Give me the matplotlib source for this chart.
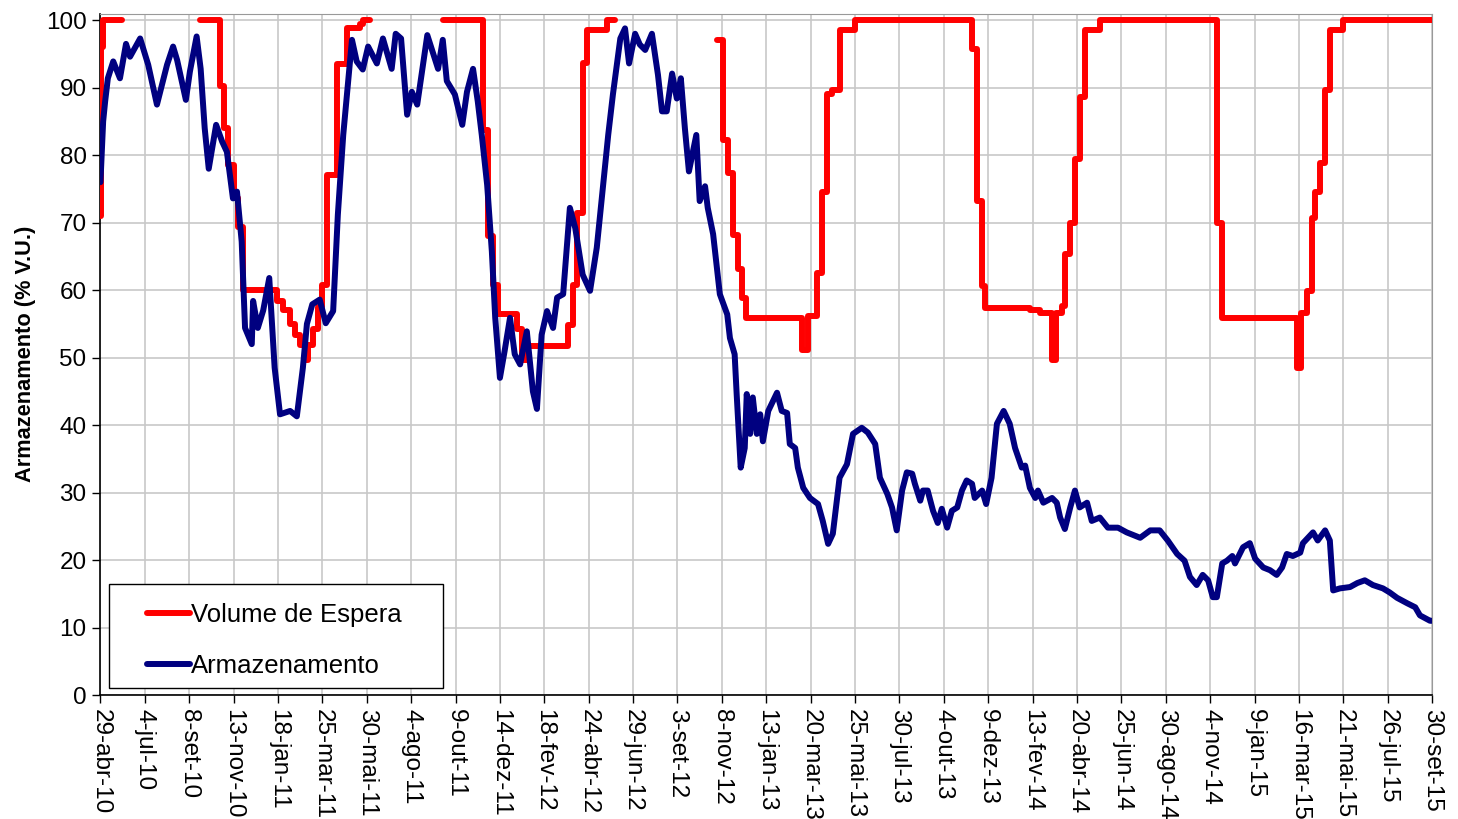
import numpy as np
import pandas as pd
import matplotlib
matplotlib.use('Agg')
import matplotlib.pyplot as plt
from matplotlib.patches import Rectangle

################################################################### data

START = pd.Timestamp('2010-04-29')
MESES = ['jan', 'fev', 'mar', 'abr', 'mai', 'jun', 'jul', 'ago', 'set', 'out', 'nov', 'dez']

# armazenamento, dias contados a partir de 29-abr-10
arm_dias = [0, 4, 7, 11, 19, 29, 38, 44, 59, 71, 84, 99, 108, 114, 127, 133, 143, 149, 155, 161,
            172, 181, 188, 197, 203, 210, 215, 225, 227, 234, 242, 251, 259, 267, 282, 292, 301, 307,
            315, 326, 335, 346, 353, 361, 374, 381, 390, 398, 411, 420, 433, 439, 447, 456, 463, 471,
            486, 494, 502, 509, 515, 527, 538, 545, 554, 561, 567, 575, 582, 587, 594, 601, 609, 616,
            624, 634, 643, 649, 656, 664, 673, 679, 688, 698, 706, 717, 728, 738, 747, 755, 762, 773,
            780, 786, 795, 802, 810, 820, 829, 835, 842, 850, 857, 863, 869, 875, 886, 891, 899, 903,
            911, 921, 932, 936, 943, 946, 952, 958, 961, 966, 970, 976, 981, 985, 993, 1006, 1013,
            1021, 1025, 1033, 1037, 1045, 1055, 1067, 1074, 1082, 1089, 1099, 1110, 1119, 1132, 1141,
            1152, 1159, 1170, 1177, 1184, 1192, 1199, 1207, 1211, 1219, 1223, 1230, 1238, 1245, 1251,
            1259, 1266, 1274, 1281, 1288, 1296, 1300, 1311, 1317, 1325, 1333, 1343, 1352, 1360, 1370,
            1375, 1382, 1390, 1394, 1402, 1415, 1422, 1427, 1434, 1442, 1449, 1456, 1467, 1474, 1486,
            1498, 1513, 1526, 1546, 1561, 1575, 1587, 1601, 1612, 1620, 1630, 1639, 1647, 1654, 1660,
            1668, 1675, 1683, 1687, 1699, 1709, 1717, 1729, 1739, 1749, 1757, 1764, 1773, 1784, 1788,
            1803, 1810, 1821, 1828, 1833, 1843, 1858, 1869, 1880, 1892, 1907, 1917, 1928, 1943, 1955,
            1962, 1977, 1980]
arm_valores = [76, 85, 88, 91.4, 93.9, 91.4, 96.5, 94.6, 97.3, 93.4, 87.5, 93.4, 96.1, 94.1, 88.2, 92.4,
               97.6, 92.8, 84, 78, 84.5, 82, 80.5, 73.6, 74.6, 67.2, 54.4, 52, 58.4, 54.4, 57, 61.8,
               48.5, 41.6, 42.1, 41.3, 48.5, 55, 57.9, 58.6, 55.1, 56.9, 71.2, 83, 97.1, 93.9, 92.7,
               96.1, 93.6, 97.3, 92.8, 98, 97.3, 86, 89.4, 87.5, 97.8, 95.3, 92.8, 97.1, 91, 89, 84.5,
               89.4, 92.8, 88, 83, 75.6, 65.7, 55.9, 47, 51, 55.9, 50.5, 49, 53.9, 45, 42.4, 53.4,
               56.9, 54.4, 58.9, 59.4, 72.2, 69.2, 62.3, 59.9, 66.3, 75.2, 83, 89, 97.3, 98.8, 93.6,
               98, 96.4, 95.6, 98, 91.9, 86.5, 86.5, 92.1, 88.4, 91.4, 84, 77.6, 83, 73.2, 75.4, 72.2,
               68.3, 59.4, 56.4, 52.9, 50.5, 44.6, 33.7, 36.6, 44.6, 38.7, 44.1, 38.7, 41.6, 37.6,
               42.1, 44.8, 42.1, 41.8, 37.2, 36.6, 33.7, 30.7, 29.2, 28.3, 25.8, 22.4, 23.9, 32.2,
               34.2, 38.7, 39.6, 38.9, 37.2, 32.2, 29.8, 27.8, 24.4, 30.3, 33, 32.8, 31.3, 28.8, 30.3,
               30.3, 27.3, 25.5, 27.6, 24.8, 27.3, 27.8, 30.3, 31.8, 31.3, 29.2, 30.3, 28.3, 32.2,
               40.2, 42.1, 40.2, 36.6, 33.7, 34, 30.7, 29.2, 30.3, 28.5, 29.2, 28.5, 26.3, 24.6, 27.8,
               30.3, 27.8, 28.5, 25.8, 26.3, 24.8, 24.8, 24.1, 23.3, 24.4, 24.4, 22.9, 20.9, 19.9,
               17.5, 16.3, 17.8, 17, 14.5, 14.5, 19.5, 19.9, 20.6, 19.5, 21.9, 22.5, 20.2, 18.9, 18.5,
               17.8, 18.9, 20.9, 20.6, 21.1, 22.5, 24.1, 22.9, 24.4, 22.9, 15.5, 15.8, 16, 16.6, 17,
               16.3, 15.8, 15.2, 14.4, 13.6, 13, 11.8, 11, 11]

# volume de espera (degraus), None = sem dado
ve_dias = [0, 1, 4, 32,
           148, 178, 183, 190, 199, 205, 212, 262, 271, 282, 289, 297, 304, 309, 316, 323, 329, 337,
           352, 366, 386, 390, 401,
           509, 569, 576, 583, 591, 619, 627, 635, 695, 703, 709, 717, 723, 753, 765,
           917, 926, 933, 940, 948, 954, 960, 1043, 1052, 1066, 1073, 1080, 1088, 1100, 1122, 1296,
           1303, 1311, 1315, 1382, 1397, 1415, 1421, 1430, 1434, 1442, 1449, 1456, 1464, 1486, 1660,
           1668, 1779, 1785, 1794, 1802, 1806, 1813, 1821, 1828, 1848, 1980]
ve_valores = [71, 96, 100, None,
              100, 90.2, 84, 78.6, 73.6, 69.4, 60, 58.4, 57, 55, 53.4, 51.9, 49.7, 51.9, 54.2, 57.5,
              60.8, 77, 93.5, 98.8, 99.5, 100, None,
              100, 83.8, 68, 60.8, 56.4, 54.2, 49.7, 51.7, 54.9, 60.8, 71.4, 93.6, 98.6, 100, None,
              97.1, 82.3, 77.3, 68.2, 63.2, 58.8, 55.9, 51.2, 56.1, 62.5, 74.6, 89, 89.7, 98.6, 100,
              95.8, 73.2, 60.6, 57.3, 57.1, 56.6, 49.6, 56.6, 57.6, 65.3, 69.9, 79.5, 88.7, 98.6, 100,
              69.9, 55.9, 48.5, 56.6, 59.9, 70.7, 74.6, 78.8, 89.7, 98.6, 100, 100]

TICK_STEP = 66
N_TICKS = 31

################################################################### plot

plt.rcParams['font.family'] = ['Liberation Sans', 'DejaVu Sans']

fig = plt.figure(figsize=(14.58, 8.19), dpi=100)
ax = fig.add_axes([0.0689, 0.1514, 0.9133, 0.8321])

LW = 4.3
ve = np.array([np.nan if v is None else v for v in ve_valores], dtype=float)
ax.plot(ve_dias, ve, drawstyle='steps-post', color='#FF0000', lw=LW,
        solid_capstyle='round', solid_joinstyle='round', label='Volume de Espera', zorder=3)
ax.plot(arm_dias, arm_valores, color='#000080', lw=LW,
        solid_capstyle='round', solid_joinstyle='round', label='Armazenamento', zorder=4)

ticks = np.arange(N_TICKS) * TICK_STEP
labels = []
for d in ticks:
    t = START + pd.Timedelta(days=int(d))
    labels.append('%d-%s-%02d' % (t.day, MESES[t.month - 1], t.year % 100))
ax.set_xticks(ticks)
ax.set_xticklabels(labels, rotation=-90, fontsize=17.5)
ax.set_xlim(0, ticks[-1])

ax.set_ylim(0, 101)
ax.set_yticks(np.arange(0, 101, 10))
ax.tick_params(axis='y', labelsize=17.5, length=6, width=1, direction='out', pad=4)
ax.tick_params(axis='x', length=6, width=1, direction='out', pad=4)

ax.set_ylabel('Armazenamento (% V.U.)', fontsize=15.7, fontweight='bold', labelpad=7)

ax.grid(True, color='#c8c8c8', lw=1.2)
ax.set_axisbelow(True)
for s in ['top', 'right']:
    ax.spines[s].set_color('#999999')
for s in ['left', 'bottom']:
    ax.spines[s].set_color('black')
    ax.spines[s].set_linewidth(1.2)

# caixa da legenda
ax.add_patch(Rectangle((0.0064, 0.0103), 0.2508, 0.1526, transform=ax.transAxes,
                       facecolor='white', edgecolor='black', lw=1.0, zorder=5))
leg = ax.legend(loc='upper left', bbox_to_anchor=(0.0349, 0.135), frameon=False,
                fontsize=18.5, borderaxespad=0, borderpad=0, labelspacing=1.05,
                handlelength=1.67, handletextpad=0.05)
leg.set_zorder(6)
for h in leg.legend_handles:
    h.set_linewidth(LW)

fig.savefig('out.png', dpi=100)
